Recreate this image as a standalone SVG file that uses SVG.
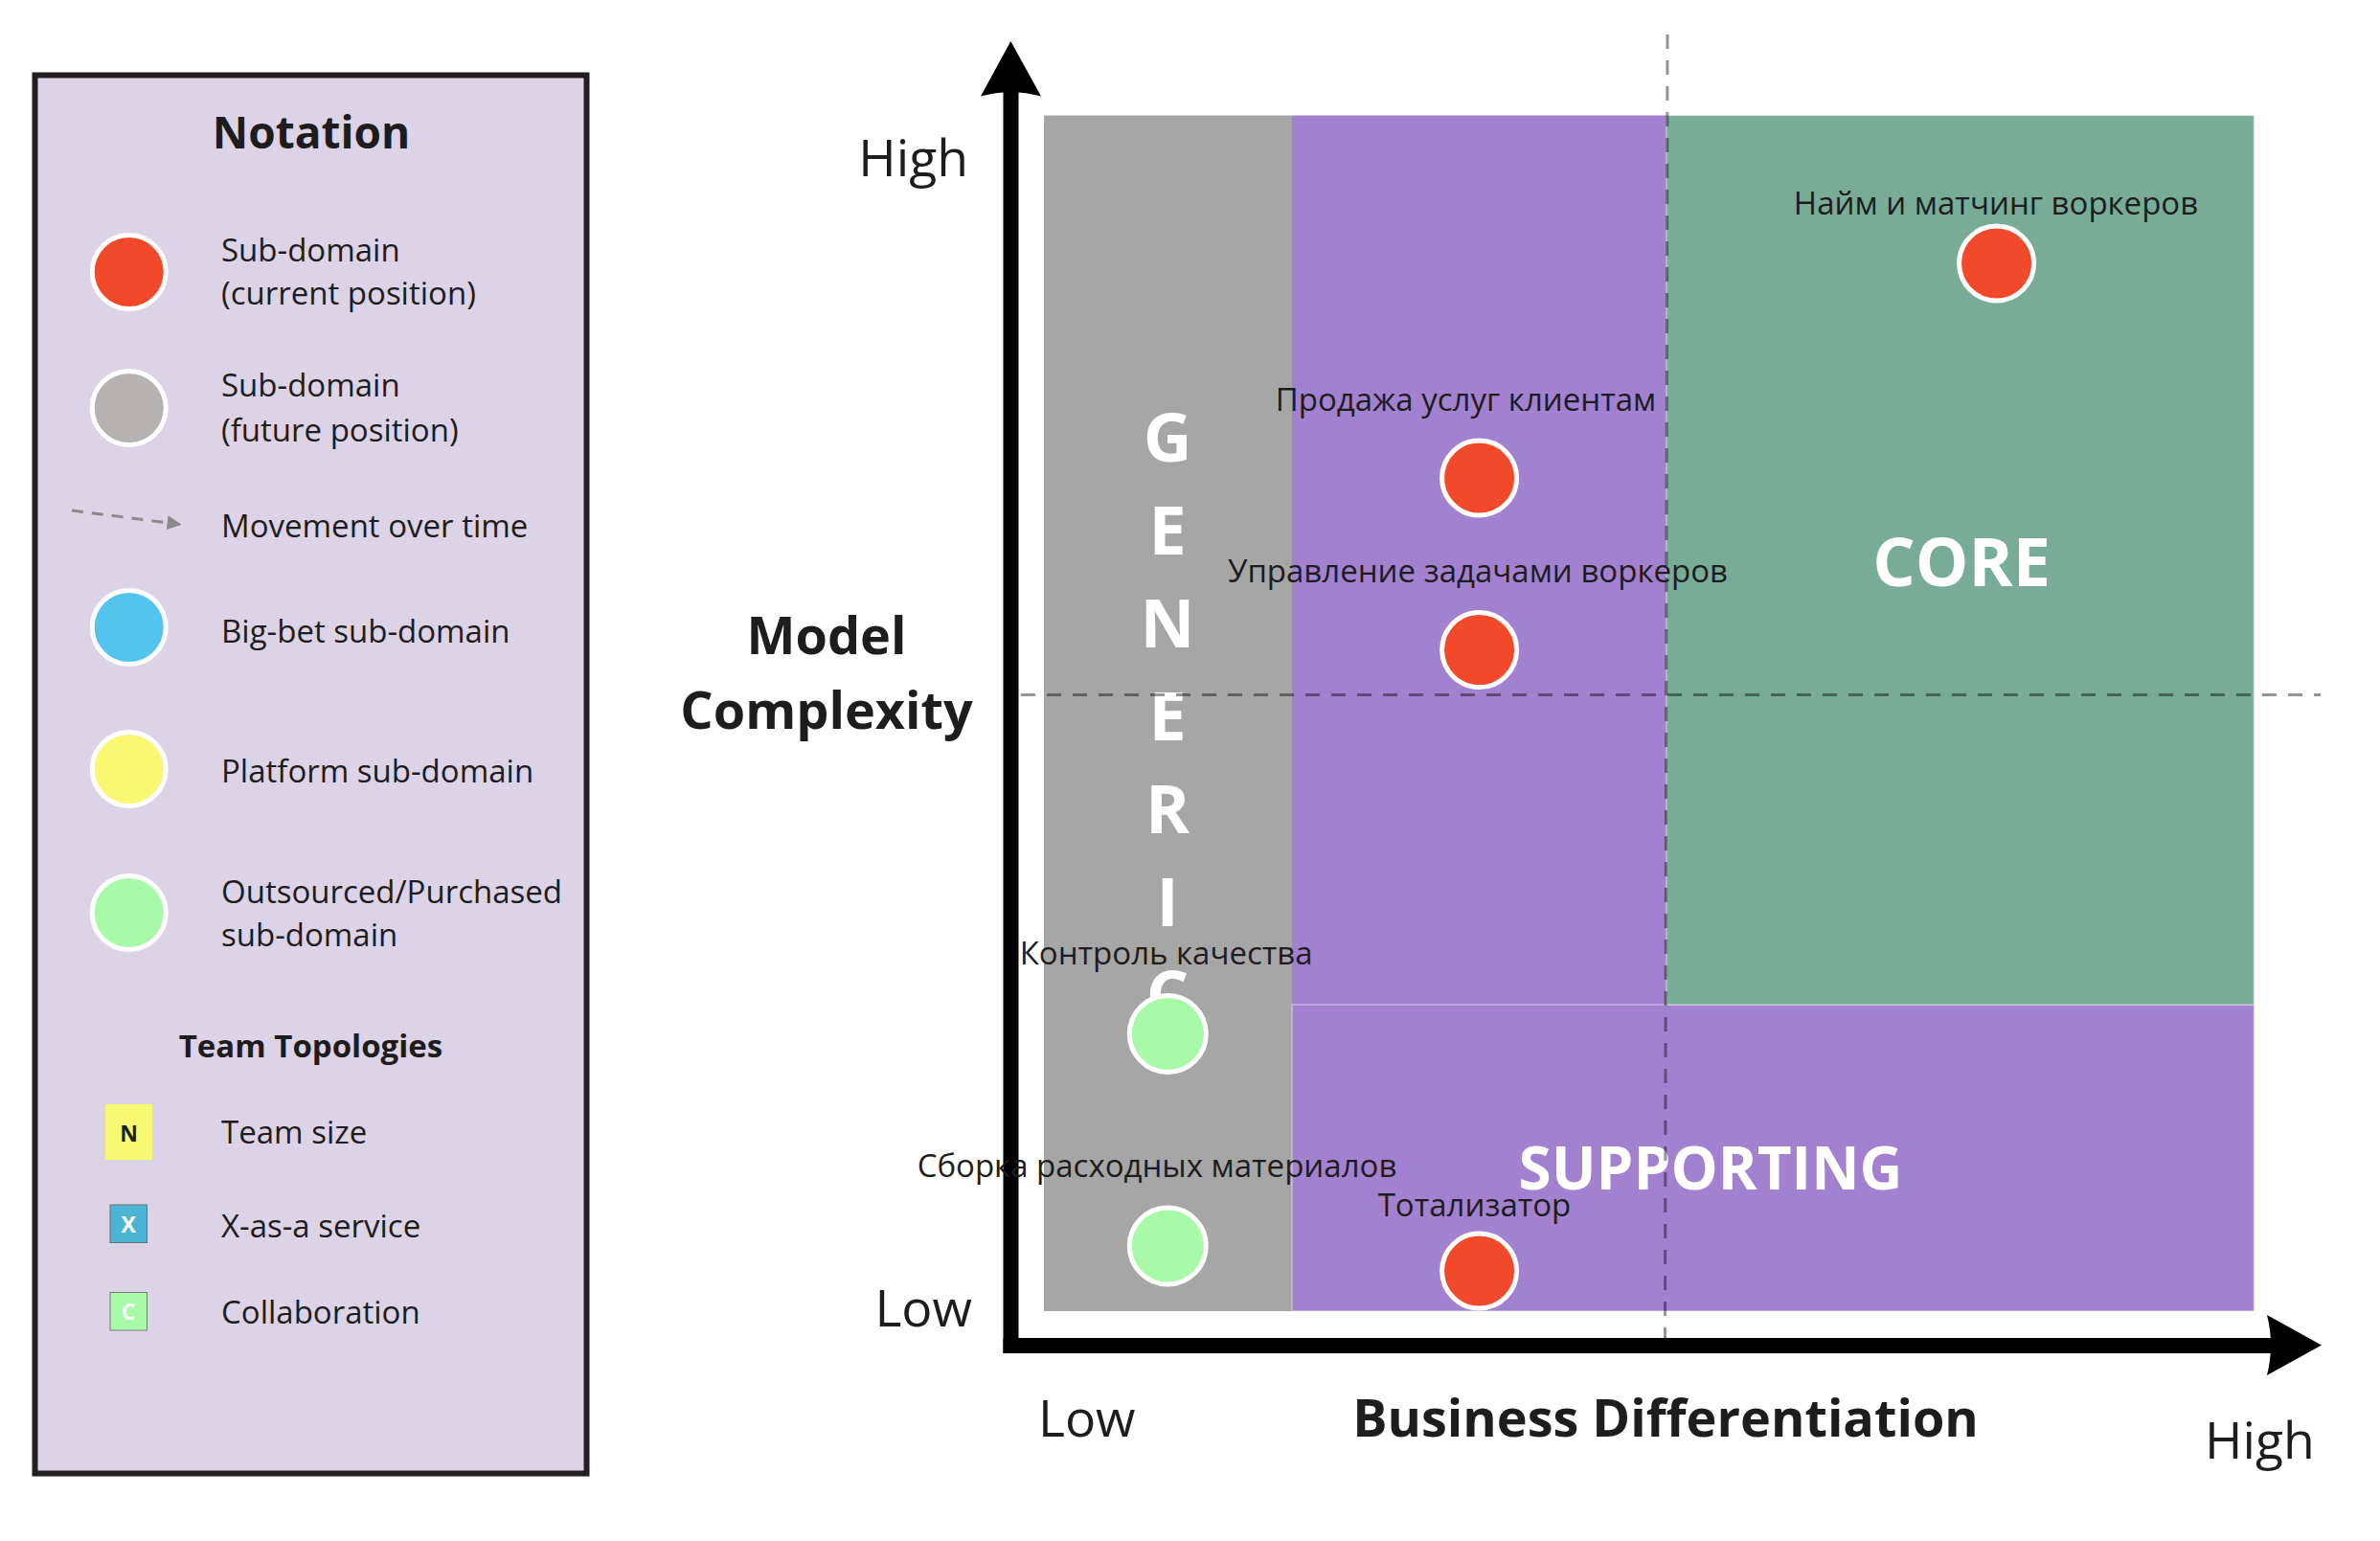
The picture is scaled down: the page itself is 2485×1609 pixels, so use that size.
<svg xmlns="http://www.w3.org/2000/svg" width="2485" height="1609" viewBox="0 0 2485 1609">
<style>
text{font-family:"Open Sans","Noto Sans","Liberation Sans",sans-serif;fill:#1e1c1d}
.lg{font-size:33px}
.lb{font-size:33px;text-anchor:middle}
.ax{font-size:53.5px}
.axb{font-size:54px;font-weight:700;text-anchor:middle}
.big{font-weight:700;fill:#fff;text-anchor:middle}
.dot{stroke:#fff;stroke-width:5}
.red{fill:#f2492a}
.grn{fill:#a8f9a8}
.guide{stroke:#000;stroke-opacity:0.42;stroke-width:3;stroke-dasharray:15 12;fill:none}
.zone{stroke:#fff;stroke-opacity:0.4;stroke-width:1.5}
</style>
<defs>
<marker id="mv" viewBox="0 0 10 10" refX="9" refY="5" markerWidth="5" markerHeight="5" orient="auto" markerUnits="strokeWidth">
<path d="M0,0 L10,5 L0,10 Z" fill="#8a8a8a"/>
</marker>
</defs>
<rect width="2485" height="1609" fill="#fff"/>

<g id="legend">
<rect x="36.5" y="78.5" width="576" height="1460" fill="#dcd3e6" stroke="#231f20" stroke-width="6"/>
<text x="325" y="155" style="font-size:46px;font-weight:700;text-anchor:middle">Notation</text>
<g id="legend-current">
<circle class="dot red" cx="134.7" cy="284" r="38.5"/>
<text class="lg" x="231" y="273">Sub-domain</text>
<text class="lg" x="231" y="318">(current position)</text>
</g>
<g id="legend-future">
<circle class="dot" cx="134.7" cy="426" r="38.5" fill="#b6b2b2"/>
<text class="lg" x="231" y="414">Sub-domain</text>
<text class="lg" x="231" y="461">(future position)</text>
</g>
<g id="legend-movement">
<line x1="75" y1="533" x2="188" y2="547.5" stroke="#8a8a8a" stroke-width="3" stroke-dasharray="12 9" marker-end="url(#mv)"/>
<text class="lg" x="231" y="561">Movement over time</text>
</g>
<g id="legend-bigbet">
<circle class="dot" cx="134.7" cy="655" r="38.5" fill="#52c4ee"/>
<text class="lg" x="231" y="671">Big-bet sub-domain</text>
</g>
<g id="legend-platform">
<circle class="dot" cx="134.7" cy="803" r="38.5" fill="#f8f872"/>
<text class="lg" x="231" y="817">Platform sub-domain</text>
</g>
<g id="legend-outsourced">
<circle class="dot grn" cx="134.7" cy="953" r="38.5"/>
<text class="lg" x="231" y="943">Outsourced/Purchased</text>
<text class="lg" x="231" y="988">sub-domain</text>
</g>
<text x="324.5" y="1104" style="font-size:33px;font-weight:700;text-anchor:middle">Team Topologies</text>
<g id="legend-teamsize">
<rect x="110" y="1153" width="49" height="58" fill="#f8f872"/>
<text x="134.5" y="1192" style="font-size:23px;font-weight:700;text-anchor:middle">N</text>
<text class="lg" x="231" y="1194">Team size</text>
</g>
<g id="legend-xaas">
<rect x="115" y="1258" width="38.5" height="39.5" fill="#4ab6d3" stroke="#6e6e6e" stroke-width="1"/>
<text x="134.2" y="1287" style="font-size:23px;font-weight:700;text-anchor:middle;fill:#fff">X</text>
<text class="lg" x="231" y="1292">X-as-a service</text>
</g>
<g id="legend-collab">
<rect x="115" y="1349.5" width="38.5" height="39.5" fill="#a8f9a8" stroke="#7a7a7a" stroke-width="1"/>
<text x="134.2" y="1378" style="font-size:23px;font-weight:700;text-anchor:middle;fill:#fff">C</text>
<text class="lg" x="231" y="1382">Collaboration</text>
</g>
</g>

<g id="zones">
<rect id="zone-generic" x="1090" y="120.5" width="259" height="1248.5" fill="#a6a6a6"/>
<rect id="zone-supporting-top" x="1349" y="120.5" width="391" height="928.5" fill="#a381d1"/>
<rect id="zone-supporting" class="zone" x="1349" y="1049" width="1004.5" height="320" fill="#a381d1"/>
<rect id="zone-core" class="zone" x="1740" y="120.5" width="613.5" height="928.5" fill="#78ac97"/>
<g class="big" style="font-size:70px">
<text class="big" x="1219" y="482">G</text>
<text class="big" x="1219" y="579">E</text>
<text class="big" x="1219" y="676">N</text>
<text class="big" x="1219" y="773">E</text>
<text class="big" x="1219" y="870">R</text>
<text class="big" x="1219" y="967">I</text>
<text class="big" x="1219" y="1064">C</text>
</g>
<text class="big" x="2048" y="612" style="font-size:70px">CORE</text>
<text class="big" x="1786" y="1242" style="font-size:62px">SUPPORTING</text>
</g>

<g id="guides">
<line class="guide" x1="1741" y1="36" x2="1738.5" y2="1397"/>
<line class="guide" x1="1066" y1="725.5" x2="2423" y2="725.5"/>
</g>

<g id="axes">
<rect x="1047.5" y="95" width="16" height="1318" fill="#000"/>
<path d="M1055.3,43 L1087,100.5 Q1055.3,92 1024,100.5 Z" fill="#000"/>
<rect x="1047.5" y="1397" width="1326" height="16" fill="#000"/>
<path d="M2424,1404.5 L2367,1373 Q2375,1404.5 2367,1436 Z" fill="#000"/>
<text class="ax" x="1011" y="184" text-anchor="end">High</text>
<text class="ax" x="1015" y="1385" text-anchor="end">Low</text>
<text class="axb" x="863" y="683">Model</text>
<text class="axb" x="863" y="761">Complexity</text>
<text class="ax" x="1084" y="1500">Low</text>
<text class="axb" x="1739" y="1500">Business Differentiation</text>
<text class="ax" x="2302" y="1523">High</text>
</g>

<g id="node-hiring">
<text class="lb" x="2084" y="224">Найм и матчинг воркеров</text>
<circle class="dot red" cx="2084.6" cy="275" r="39"/>
</g>
<g id="node-sales">
<text class="lb" x="1530.5" y="428.5">Продажа услуг клиентам</text>
<circle class="dot red" cx="1544.6" cy="499" r="39"/>
</g>
<g id="node-tasks">
<text class="lb" x="1543" y="608">Управление задачами воркеров</text>
<circle class="dot red" cx="1544.6" cy="678.6" r="39"/>
</g>
<g id="node-quality">
<text class="lb" x="1217.7" y="1007">Контроль качества</text>
<circle class="dot grn" cx="1219.3" cy="1079.5" r="40"/>
</g>
<g id="node-supplies">
<text class="lb" x="1208" y="1228.5">Сборка расходных материалов</text>
<circle class="dot grn" cx="1219.3" cy="1301" r="40"/>
</g>
<g id="node-totalizator">
<text class="lb" x="1539.5" y="1270">Тотализатор</text>
<circle class="dot red" cx="1544.6" cy="1327" r="39"/>
</g>
</svg>
